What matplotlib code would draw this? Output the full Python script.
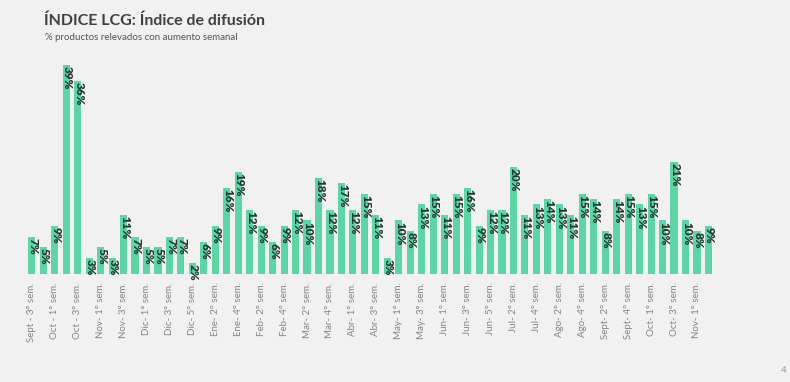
import matplotlib
matplotlib.use('agg')
import matplotlib.pyplot as plt
import numpy as np

# datos: % productos con aumento semanal
values = [7, 5, 9, 39, 36, 3, 5, 3, 11, 7,
          5, 5, 7, 7, 2, 6, 9, 16, 19, 12,
          9, 6, 9, 12, 10, 18, 12, 17, 12, 15,
          11, 3, 10, 8, 13, 15, 11, 15, 16, 9,
          12, 12, 20, 11, 13, 14, 13, 11, 15, 14,
          8, 14, 15, 13, 15, 10, 21, 10, 8, 9]
tick_labels = ['Sept - 3° sem.', 'Oct - 1° sem.', 'Oct - 3° sem.', 'Nov- 1° sem.',
               'Nov- 3° sem.', 'Dic- 1° sem.', 'Dic- 3° sem.', 'Dic- 5° sem.',
               'Ene- 2° sem.', 'Ene- 4° sem.', 'Feb- 2° sem.', 'Feb- 4° sem.',
               'Mar- 2° sem.', 'Mar- 4° sem.', 'Abr- 1° sem.', 'Abr- 3° sem.',
               'May- 1° sem.', 'May- 3° sem.', 'Jun- 1° sem.', 'Jun- 3° sem.',
               'Jun- 5° sem.', 'Jul- 2° sem.', 'Jul- 4° sem.', 'Ago- 2° sem.',
               'Ago- 4° sem.', 'Sept- 2° sem.', 'Sept- 4° sem.', 'Oct- 1° sem.',
               'Oct- 3° sem.', 'Nov- 1° sem.']

bg = '#f1f1f1'
bar_color = '#5fd4a6'
plt.rcParams['font.family'] = ['Lato', 'DejaVu Sans']

fig = plt.figure(figsize=(7.9, 3.82), dpi=100, facecolor=bg)
ax = fig.add_axes([0.033, 0.2827, 0.871, 0.5603])
ax.set_facecolor(bg)

x = np.arange(len(values))
ax.bar(x, values, width=0.62, color=bar_color, zorder=2)

for xi, v in zip(x, values):
    ax.text(xi + 0.1, v - 0.2, '%d%%' % v, rotation=270, ha='center', va='top',
            fontsize=8.5, fontweight='heavy', color='#22382f', zorder=3)

ax.set_xlim(-0.5, len(values) - 0.5)
ax.set_ylim(0, 40)
ax.set_xticks(x[::2])
ax.set_xticklabels(tick_labels, rotation=90, fontsize=7, color='#858585')
ax.tick_params(axis='x', length=0, pad=6)
ax.set_yticks([])
for s in ax.spines.values():
    s.set_visible(False)

fig.text(0.056, 0.945, 'ÍNDICE LCG: Índice de difusión', fontsize=11.5,
         fontweight='bold', color='#404040', va='center')
fig.text(0.057, 0.902, '% productos relevados con aumento semanal', fontsize=7,
         color='#555555', va='center')
fig.text(0.996, 0.03, '4', fontsize=7, color='#9a9a9a', ha='right', va='center')

fig.savefig('out.png', dpi=100, facecolor=bg)
